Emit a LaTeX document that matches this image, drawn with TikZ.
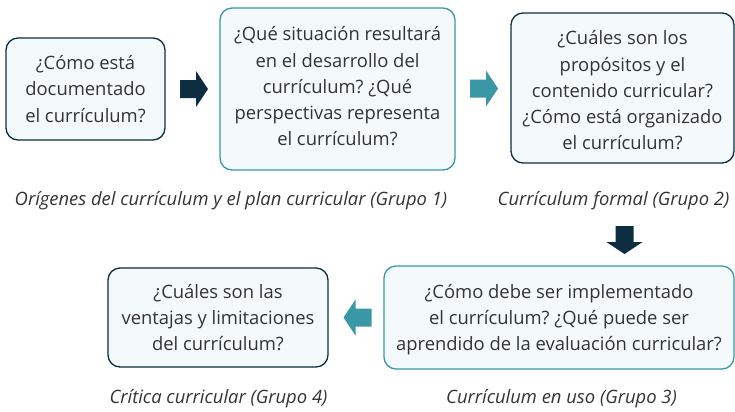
\documentclass[tikz,border=0pt]{standalone}
\usepackage{fontspec}
\setmainfont{Open Sans}
\frenchspacing
\usetikzlibrary{calc}
\definecolor{navy}{HTML}{0C2E40}
\definecolor{teal2}{HTML}{3A97A5}
\definecolor{boxfill}{HTML}{F4FAFB}
\definecolor{txt}{HTML}{333333}
\newcommand{\shifttext}[2]{\raisebox{#1}[\height][\depth]{\begin{tabular}{@{}c@{}}#2\end{tabular}}}
\begin{document}
\begin{tikzpicture}[x=1bp,y=-1bp,
  qbox/.style={draw, line width=1.3bp, rounded corners=12bp, fill=boxfill, align=center,
    text=txt, font=\fontsize{18.4bp}{26.2bp}\selectfont\frenchspacing, inner sep=0pt},
  darkbox/.style={qbox, draw=navy},
  tealbox/.style={qbox, draw=teal2},
  caption/.style={text=txt, font=\fontsize{18.4bp}{23bp}\selectfont\itshape, inner sep=0pt},
  blockarr/.pic={\fill (-14,-9) -- (2,-9) -- (2,-18) -- (14,0) -- (2,18) -- (2,9) -- (-14,9) -- cycle;}]
\useasboundingbox (0,0) rectangle (735,411);
\node[darkbox, minimum width=159bp, minimum height=102bp] (b1) at (85.5,89)
  {¿Cómo está\\documentado\\el currículum?};
\node[tealbox, minimum width=235bp, minimum height=162bp] (b2) at (337.5,89)
  {\shifttext{1bp}{¿Qué situación resultará\\en el desarrollo del\\currículum? ¿Qué\\perspectivas representa\\el currículum?}};
\node[darkbox, minimum width=223bp, minimum height=150bp] (b3) at (622.5,88)
  {\shifttext{-4bp}{¿Cuáles son los\\propósitos y el\\contenido curricular?\\¿Cómo está organizado\\el currículum?}};
\node[tealbox, minimum width=350bp, minimum height=103bp] (b4) at (559,317.5)
  {\shifttext{-2bp}{¿Cómo debe ser implementado\\el currículum? ¿Qué puede ser\\aprendido de la evaluación curricular?}};
\node[darkbox, minimum width=220bp, minimum height=99bp] (b5) at (218,317.5)
  {\shifttext{-2bp}{¿Cuáles son las\\ventajas y limitaciones\\del currículum?}};
\node[caption] (c1) at (231,201) {Orígenes del currículum y el plan curricular (Grupo 1)};
\node[caption] (c2) at (613.5,201) {Currículum formal (Grupo 2)};
\node[caption] (c3) at (561.5,399) {Currículum en uso (Grupo 3)};
\node[caption] (c4) at (218.5,399) {Crítica curricular (Grupo 4)};
\coordinate (a1) at ($(b1.east)!0.5!(b2.west)+(1.5,0)$);
\coordinate (a2) at ($(b2.east)!0.5!(b3.west)+(1,0)$);
\coordinate (a3) at (624.5,240);
\coordinate (a4) at ($(b5.east)!0.5!(b4.west)+(1.5,0)$);
\pic[navy] at (a1) {blockarr};
\pic[teal2] at (a2) {blockarr};
\pic[navy, rotate=-90] at (a3) {blockarr};
\pic[teal2, rotate=180] at (a4) {blockarr};
\end{tikzpicture}
\end{document}
